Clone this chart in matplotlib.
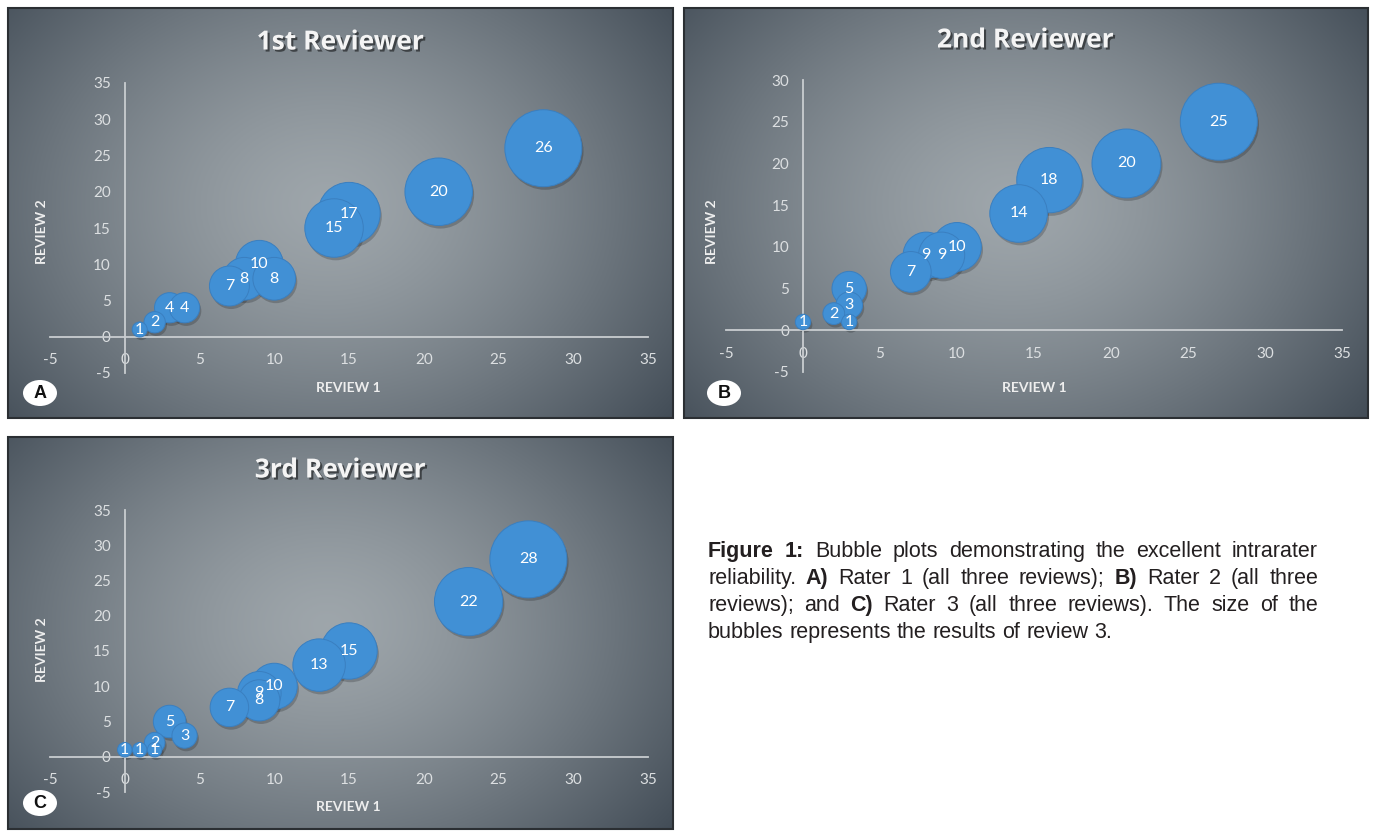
import numpy as np
import matplotlib.pyplot as plt
import matplotlib.patheffects as pe
from matplotlib.patches import Ellipse, Rectangle
from matplotlib.transforms import ScaledTranslation

plt.rcParams["axes.unicode_minus"] = False

# Rater 1: review 1 (x), review 2 (y), review 3 (bubble size)
r1_rev1 = [1, 2, 3, 4, 7, 8, 9, 10, 14, 15, 21, 28]
r1_rev2 = [1, 2, 4, 4, 7, 8, 10, 8, 15, 17, 20, 26]
r1_rev3 = [1, 2, 4, 4, 7, 8, 10, 8, 15, 17, 20, 26]

# Rater 2
r2_rev1 = [0, 2, 3, 3, 3, 7, 8, 9, 10, 14, 16, 21, 27]
r2_rev2 = [1, 2, 5, 3, 1, 7, 9, 9, 10, 14, 18, 20, 25]
r2_rev3 = [1, 2, 5, 3, 1, 7, 9, 9, 10, 14, 18, 20, 25]

# Rater 3
r3_rev1 = [0, 1, 2, 2, 3, 4, 7, 9, 9, 10, 13, 15, 23, 27]
r3_rev2 = [1, 1, 2, 1, 5, 3, 7, 9, 8, 10, 13, 15, 22, 28]
r3_rev3 = [1, 1, 2, 1, 5, 3, 7, 9, 8, 10, 13, 15, 22, 28]

titles = ["1st Reviewer", "2nd Reviewer", "3rd Reviewer"]
letters = ["A", "B", "C"]

W, H = 1373, 831
fig = plt.figure(figsize=(W / 100, H / 100), dpi=100)
fig.patch.set_facecolor("white")


def fx(x):
    return x / W


def fy(y):
    return 1 - y / H


# box, plot area (left, top, right, bottom), ymax, title pos, xlabel pos, ylabel pos, letter pos
paneles = [
    dict(box=(8, 8, 673, 418), area=(50, 83, 648, 373), ymax=35, tit=(340, 42),
         xl=(348, 388), yl=(42, 232), let=(40, 393),
         x=r1_rev1, y=r1_rev2, s=r1_rev3),
    dict(box=(684, 8, 1368, 418), area=(726, 80, 1342, 372), ymax=30, tit=(1025, 40),
         xl=(1034, 388), yl=(712, 232), let=(724, 393),
         x=r2_rev1, y=r2_rev2, s=r2_rev3),
    dict(box=(8, 437, 673, 829), area=(50, 510, 648, 792), ymax=35, tit=(340, 470),
         xl=(348, 807), yl=(42, 650), let=(40, 803),
         x=r3_rev1, y=r3_rev2, s=r3_rev3),
]

c_centro = np.array([0.62, 0.65, 0.67])
c_borde = np.array([0.26, 0.30, 0.34])

for i, p in enumerate(paneles):
    x0, y0, x1, y1 = p["box"]
    bw, bh = x1 - x0, y1 - y0
    # fondo con degradado radial
    bg = fig.add_axes([fx(x0), fy(y1), bw / W, bh / H])
    gx, gy = np.meshgrid(np.linspace(0, 1, 300), np.linspace(0, 1, 200))
    d = np.sqrt(((gx - 0.48) / 0.66) ** 2 + ((gy - 0.52) / 0.85) ** 2)
    t = np.clip(d, 0, 1) ** 1.4
    img = c_centro[None, None, :] * (1 - t[..., None]) + c_borde[None, None, :] * t[..., None]
    bg.imshow(img, extent=[0, 1, 0, 1], aspect="auto", origin="lower")
    bg.set_xlim(0, 1)
    bg.set_ylim(0, 1)
    bg.axis("off")
    fig.patches.append(Rectangle((fx(x0), fy(y1)), bw / W, bh / H, transform=fig.transFigure,
                                 fill=False, edgecolor="#2b2f33", linewidth=1.5, zorder=5))

    # grafico
    l, tp, r, b = p["area"]
    ax = fig.add_axes([fx(l), fy(b), (r - l) / W, (b - tp) / H])
    ax.patch.set_alpha(0)
    ax.set_xlim(-5, 35)
    ax.set_ylim(-5, p["ymax"])
    ax.set_xticks(range(-5, 36, 5))
    ax.set_yticks(range(-5, p["ymax"] + 1, 5))
    for sp in ["top", "right"]:
        ax.spines[sp].set_visible(False)
    for sp in ["left", "bottom"]:
        ax.spines[sp].set_position(("data", 0))
        ax.spines[sp].set_color("#c9cdd0")
        ax.spines[sp].set_linewidth(1.3)
    ax.tick_params(axis="x", length=0, pad=12, labelsize=11, labelcolor="#dcdfe1")
    ax.tick_params(axis="y", length=0, pad=10, labelsize=11, labelcolor="#dcdfe1")
    for lab in ax.get_xticklabels() + ax.get_yticklabels():
        lab.set_family("Lato")

    xs = np.array(p["x"])
    ys = np.array(p["y"])
    ss = np.array(p["s"])
    # las burbujas grandes primero, como en Excel
    orden = np.argsort(-ss, kind="stable")
    tam = 3073 * ss / ss.max()
    sombra = ax.transData + ScaledTranslation(1.2 / 72, -2.2 / 72, fig.dpi_scale_trans)
    ax.scatter(xs[orden], ys[orden], s=tam[orden], color="black", alpha=0.2,
               linewidths=0, transform=sombra, clip_on=False, zorder=2)
    ax.scatter(xs[orden], ys[orden], s=tam[orden], color="#4190d5",
               edgecolors="#3a7fc0", linewidths=0.7, clip_on=False, zorder=3)
    for xv, yv, sv in zip(xs, ys, ss):
        ax.text(xv, yv, str(sv), ha="center", va="center", color="white",
                fontsize=11.5, family="Lato", zorder=4)

    fig.text(fx(p["tit"][0]), fy(p["tit"][1]), titles[i], ha="center", va="center",
             fontsize=19, fontweight="bold", family="Open Sans", color="#f4f4f4",
             path_effects=[pe.withSimplePatchShadow(offset=(1.5, -1.5), shadow_rgbFace="black", alpha=0.5)])
    fig.text(fx(p["xl"][0]), fy(p["xl"][1]), "REVIEW 1", ha="center", va="center",
             fontsize=10, fontweight="bold", family="Lato", color="#eeeeee")
    fig.text(fx(p["yl"][0]), fy(p["yl"][1]), "REVIEW 2", ha="center", va="center",
             rotation=90, fontsize=10, fontweight="bold", family="Lato", color="#eeeeee")

    lx, ly = p["let"]
    fig.patches.append(Ellipse((fx(lx), fy(ly)), 34 / W, 26 / H, transform=fig.transFigure,
                               facecolor="white", edgecolor="none", zorder=6))
    fig.text(fx(lx), fy(ly), letters[i], ha="center", va="center", fontsize=13,
             fontweight="bold", family="Liberation Sans", color="#111111", zorder=7)

# leyenda de la figura, justificada
lineas = [
    [("Figure", 1), ("1:", 1), ("Bubble", 0), ("plots", 0), ("demonstrating", 0), ("the", 0),
     ("excellent", 0), ("intrarater", 0)],
    [("reliability.", 0), ("A)", 1), ("Rater", 0), ("1", 0), ("(all", 0), ("three", 0),
     ("reviews);", 0), ("B)", 1), ("Rater", 0), ("2", 0), ("(all", 0), ("three", 0)],
    [("reviews);", 0), ("and", 0), ("C)", 1), ("Rater", 0), ("3", 0), ("(all", 0), ("three", 0),
     ("reviews).", 0), ("The", 0), ("size", 0), ("of", 0), ("the", 0)],
    [("bubbles", 0), ("represents", 0), ("the", 0), ("results", 0), ("of", 0), ("review", 0), ("3.", 0)],
]
renderer = fig.canvas.get_renderer()
cx0, cx1 = 708, 1318
tam_letra = 15.5
for k, palabras in enumerate(lineas):
    yb = 557 + 27 * k
    textos = []
    for w, neg in palabras:
        textos.append(fig.text(0, fy(yb), w, fontsize=tam_letra, family="Liberation Sans",
                               fontweight="bold" if neg else "normal", color="#231f20",
                               va="baseline", ha="left"))
    anchos = [tx.get_window_extent(renderer).width for tx in textos]
    if k < len(lineas) - 1:
        hueco = (cx1 - cx0 - sum(anchos)) / (len(palabras) - 1)
    else:
        hueco = tam_letra * 100 / 72 * 0.28
    xp = cx0
    for tx, an in zip(textos, anchos):
        tx.set_x(fx(xp))
        xp += an + hueco

fig.savefig("out.png", dpi=100)
